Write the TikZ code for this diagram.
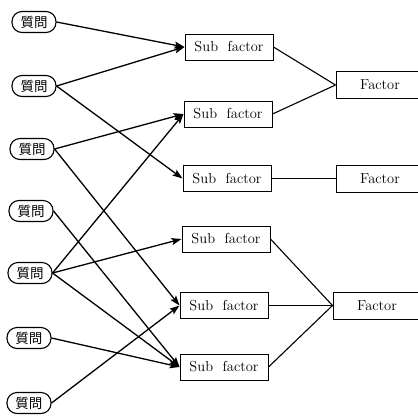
\documentclass[tikz,border=0pt]{standalone}
\usepackage{fontspec}
\newfontfamily\cjkfont{Noto Sans CJK JP}
\usetikzlibrary{arrows.meta}
\begin{document}
\begin{tikzpicture}[x=1pt,y=-1pt,
  qnode/.style={draw,line width=1.1pt,rounded corners=10pt,minimum width=44pt,minimum height=21pt,inner sep=0pt,font=\cjkfont\fontsize{13.5}{14}\selectfont},
  subbox/.style={draw,line width=1pt,minimum width=88pt,minimum height=26pt,inner sep=0pt,font=\fontsize{14.5}{16}\selectfont},
  facbox/.style={draw,line width=1pt,minimum width=88pt,minimum height=27pt,inner sep=0pt,font=\fontsize{14.5}{16}\selectfont},
  qarrow/.style={line width=1.3pt,-{Stealth[length=10pt,width=7pt,inset=2pt]}},
  link/.style={line width=1.1pt}]
\useasboundingbox (0,0) rectangle (418,416);
\clip (0,0) rectangle (418,416);
\node[qnode] (q1) at (34,22) {質問};
\node[qnode] (q2) at (34,86) {質問};
\node[qnode] (q3) at (32,149) {質問};
\node[qnode] (q4) at (31,211) {質問};
\node[qnode] (q5) at (30,273) {質問};
\node[qnode] (q6) at (29,338) {質問};
\node[qnode] (q7) at (29,403) {質問};
\node[subbox] (s1) at (229,47) {Sub\ \ factor};
\node[subbox] (s2) at (228,114) {Sub\ \ factor};
\node[subbox] (s3) at (227,178.5) {Sub\ \ factor};
\node[subbox] (s4) at (226,239) {Sub\ \ factor};
\node[subbox] (s5) at (224,305.5) {Sub\ \ factor};
\node[subbox] (s6) at (224,367) {Sub\ \ factor};
\node[facbox] (f1) at (380,85) {Factor};
\node[facbox] (f2) at (380,178.5) {Factor};
\node[facbox] (f3) at (377,305.5) {Factor};
\draw[qarrow] (q1.east) -- (s1.west);
\draw[qarrow] (q2.east) -- (s1.west);
\draw[qarrow] (q2.east) -- (s3.west);
\draw[qarrow] (q3.east) -- (s2.west);
\draw[qarrow] (q3.east) -- (s5.west);
\draw[qarrow] (q4.east) -- (s6.west);
\draw[qarrow] (q5.east) -- (s2.west);
\draw[qarrow] (q5.east) -- (s4.west);
\draw[qarrow] (q5.east) -- (s6.west);
\draw[qarrow] (q6.east) -- (s6.west);
\draw[qarrow] (q7.east) -- (s5.west);
\draw[link] (s1.east) -- (f1.west);
\draw[link] (s2.east) -- (f1.west);
\draw[link] (s3.east) -- (f2.west);
\draw[link] (s4.east) -- (f3.west);
\draw[link] (s5.east) -- (f3.west);
\draw[link] (s6.east) -- (f3.west);
\end{tikzpicture}
\end{document}
